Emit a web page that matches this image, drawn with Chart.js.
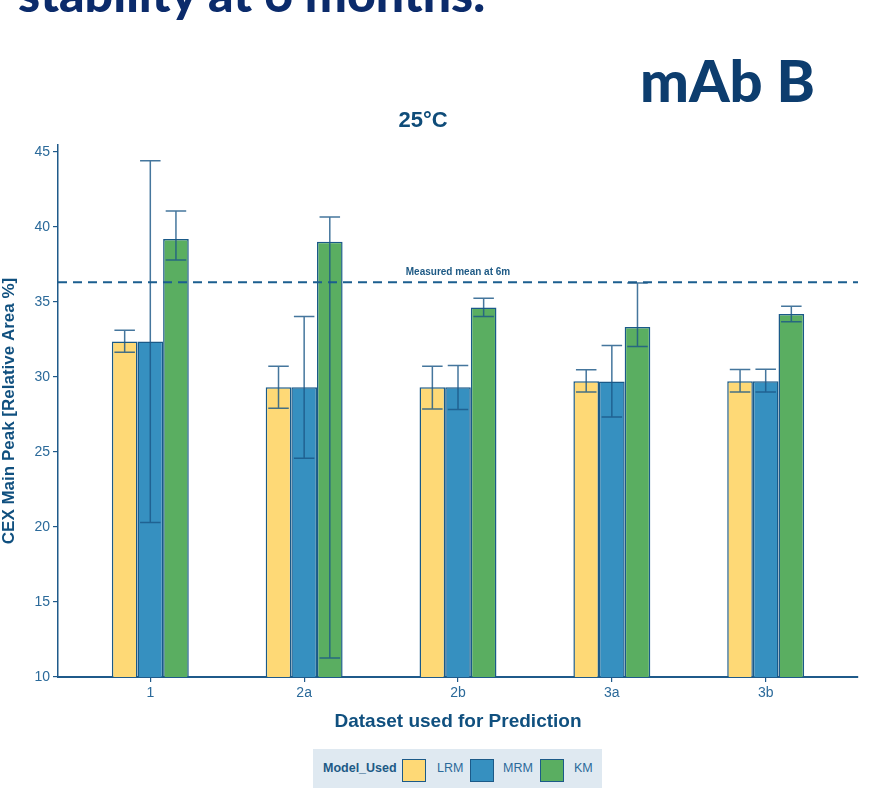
<!DOCTYPE html>
<html>
<head>
<meta charset="utf-8">
<script src="https://cdn.jsdelivr.net/npm/chart.js@4"></script>
<style>
  body { margin: 0; background: #fff; }
  #wrap { position: relative; width: 891px; height: 788px; overflow: hidden; }
  #chart { position: absolute; left: 0; top: 0; }
  .head { position: absolute; white-space: nowrap; font-family: Lato, "Open Sans", sans-serif; font-weight: 900; line-height: 1; }
  #slideTitle { left: 18px; top: -32px; font-size: 50px; color: #0b2b6b; }
  #mab { left: 640px; top: 51px; font-size: 58px; color: #0d3d6e; }
  #plotTitle { position: absolute; left: 373px; top: 109px; width: 100px; text-align: center; font: bold 22px "Liberation Sans", Arial, sans-serif; line-height: 1; color: #0f4c79; }
  #legend { position: absolute; left: 313px; top: 749px; width: 289px; height: 39px; background: #dfe9f1; font-family: "Liberation Sans", Arial, sans-serif; color: #2b6a9a; }
  #legend span { position: absolute; top: 13px; font-size: 12.5px; line-height: 1; }
  #legend .key { top: 10px; width: 22px; height: 21px; border: 1.3px solid #1c5a88; }
</style>
</head>
<body>
<div id="wrap">
  <canvas id="chart" width="891" height="788"></canvas>
  <div class="head" id="slideTitle">stability at 6 months.</div>
  <div class="head" id="mab">mAb B</div>
  <div id="plotTitle">25°C</div>
  <div id="legend">
    <span style="left:10px;font-weight:bold;color:#1d5a86">Model_Used</span>
    <span class="key" style="left:89px;background:#FED976"></span>
    <span style="left:124px">LRM</span>
    <span class="key" style="left:157px;background:#3690C0"></span>
    <span style="left:190px">MRM</span>
    <span class="key" style="left:227px;background:#5AAE61"></span>
    <span style="left:261px">KM</span>
  </div>
</div>
<script>
const categories = ["1", "2a", "2b", "3a", "3b"];

const lrmMean = [32.36, 29.30, 29.31, 29.71, 29.71];
const lrmLow  = [31.64, 27.90, 27.85, 28.99, 28.99];
const lrmHigh = [33.10, 30.71, 30.71, 30.47, 30.49];

const mrmMean = [32.36, 29.30, 29.31, 29.69, 29.70];
const mrmLow  = [20.30, 24.57, 27.83, 27.32, 28.99];
const mrmHigh = [44.40, 34.02, 30.76, 32.09, 30.51];

const kmMean = [39.19, 39.00, 34.62, 33.33, 34.19];
const kmLow  = [37.78, 11.26, 34.02, 32.02, 33.67];
const kmHigh = [41.05, 40.65, 35.24, 36.26, 34.70];

const measuredMean = 36.3;
const yTicks = [10, 15, 20, 25, 30, 35, 40, 45];

const family = '"Liberation Sans", Arial, sans-serif';
const axisBlue = "#1f5a8a";
const tickText = "#2b6a9a";
const titleBlue = "#10507f";

function barSet(label, color, mean, low, high) {
    return {
        type: "bar",
        label: label,
        data: mean.map((v, i) => ({x: i + 1, y: v})),
        low: low,
        high: high,
        backgroundColor: color,
        borderColor: "#1a5a88",
        borderWidth: 1.5,
        borderSkipped: false,
        categoryPercentage: 0.5,
        barPercentage: 1,
        order: 1
    };
}

// whiskers for each bar + label of the dashed mean line
const errorBars = {
    id: "errorBars",
    afterDatasetsDraw(chart) {
        const ctx = chart.ctx;
        const y = chart.scales.y;
        chart.data.datasets.forEach((ds, i) => {
            if (!ds.low) return;
            chart.getDatasetMeta(i).data.forEach((bar, j) => {
                const top = y.getPixelForValue(ds.high[j]);
                const bottom = y.getPixelForValue(ds.low[j]);
                const half = bar.width * 0.4;
                ctx.save();
                ctx.strokeStyle = "rgba(28,88,136,0.82)";
                ctx.lineWidth = 1.5;
                ctx.beginPath();
                ctx.moveTo(bar.x, top); ctx.lineTo(bar.x, bottom);
                ctx.moveTo(bar.x - half, top); ctx.lineTo(bar.x + half, top);
                ctx.moveTo(bar.x - half, bottom); ctx.lineTo(bar.x + half, bottom);
                ctx.stroke();
                ctx.restore();
            });
        });
        const area = chart.chartArea;
        ctx.save();
        ctx.font = "bold 10px " + family;
        ctx.fillStyle = "#1e5a85";
        ctx.textAlign = "center";
        ctx.textBaseline = "middle";
        ctx.fillText("Measured mean at 6m", (area.left + area.right) / 2, y.getPixelForValue(measuredMean) - 10);
        ctx.restore();
    }
};

new Chart(document.getElementById("chart"), {
    type: "bar",
    data: {
        datasets: [
            barSet("LRM", "#FED976", lrmMean, lrmLow, lrmHigh),
            barSet("MRM", "#3690C0", mrmMean, mrmLow, mrmHigh),
            barSet("KM", "#5AAE61", kmMean, kmLow, kmHigh),
            {
                type: "line",
                label: "Measured mean at 6m",
                data: [{x: 0.4, y: measuredMean}, {x: 5.6, y: measuredMean}],
                borderColor: "#1b5e8f",
                borderWidth: 2,
                borderDash: [9, 6],
                pointRadius: 0,
                order: 0
            }
        ]
    },
    options: {
        responsive: false,
        animation: false,
        layout: {padding: {top: 145, right: 33, left: 0, bottom: 0}},
        plugins: {legend: {display: false}, tooltip: {enabled: false}},
        scales: {
            x: {
                type: "linear",
                min: 0.4,
                max: 5.6,
                offset: false,
                afterBuildTicks: s => { s.ticks = categories.map((c, i) => ({value: i + 1})); },
                afterFit: s => { s.height = 111; },
                ticks: {
                    callback: v => categories[v - 1],
                    color: tickText,
                    font: {size: 14, family: family},
                    padding: 3,
                    maxRotation: 0,
                    autoSkip: false
                },
                grid: {offset: false, drawOnChartArea: false, drawTicks: true, tickLength: 5, color: axisBlue, lineWidth: 1.2},
                border: {display: true, color: axisBlue, width: 2},
                title: {
                    display: true,
                    text: "Dataset used for Prediction",
                    color: titleBlue,
                    font: {size: 19, weight: "bold", family: family},
                    padding: {top: 0, bottom: 55}
                }
            },
            y: {
                min: 10,
                max: 45.45,
                afterBuildTicks: s => { s.ticks = yTicks.map(v => ({value: v})); },
                afterFit: s => { s.width = 58; },
                ticks: {color: tickText, font: {size: 14, family: family}, padding: 3},
                grid: {drawOnChartArea: false, drawTicks: true, tickLength: 5, color: axisBlue, lineWidth: 1.2},
                border: {display: true, color: axisBlue, width: 1.5},
                title: {
                    display: true,
                    text: "CEX Main Peak [Relative Area %]",
                    color: titleBlue,
                    font: {size: 17, weight: "bold", family: family, lineHeight: 1},
                    padding: {top: 0.5, bottom: 0}
                }
            }
        }
    },
    plugins: [errorBars]
});
</script>
</body>
</html>
